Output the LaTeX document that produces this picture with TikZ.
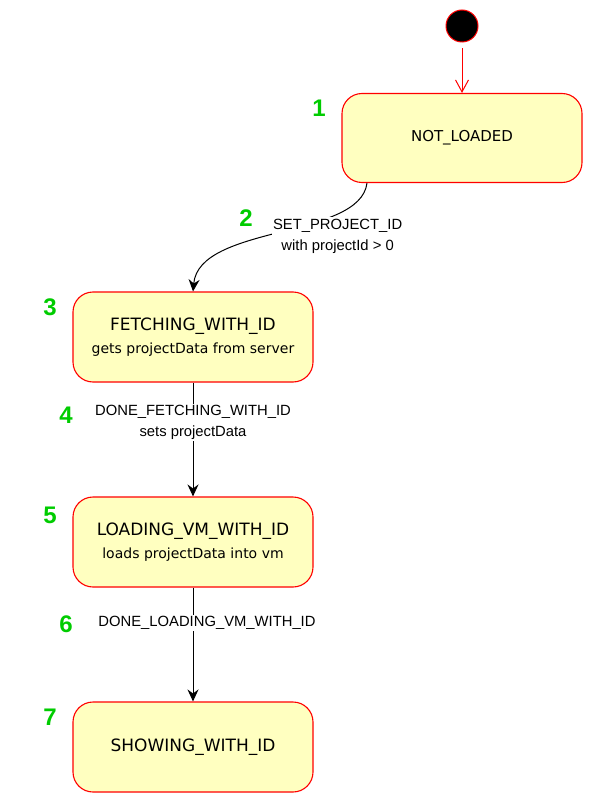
\documentclass[tikz,border=0pt]{standalone}
\usepackage{fontspec}
\setmainfont{Liberation Sans}
\newfontfamily\statefont{DejaVu Sans}
\usetikzlibrary{arrows.meta}

\definecolor{statefill}{HTML}{FFFFC0}
\definecolor{stateline}{HTML}{FF0000}
\definecolor{numgreen}{HTML}{00CC00}

\newcommand{\subline}[1]{{\fontsize{14}{23}\selectfont #1}}

\tikzset{
  statebox/.style={draw=stateline, fill=statefill, line width=1.1pt,
    rounded corners=20pt, minimum width=240pt, minimum height=90pt,
    align=center, inner sep=0pt, font=\statefont\fontsize{17}{23}\selectfont},
  lbl/.style={fill=white, align=center, inner sep=1.5pt,
    font=\fontsize{14.8}{21}\selectfont},
  num/.style={text=numgreen, font=\bfseries\fontsize{24}{24}\selectfont},
  trans/.style={draw, line width=1pt,
    -{Stealth[length=12pt,width=11pt,inset=4pt]}},
}

\begin{document}
\begin{tikzpicture}[x=1pt,y=-1pt]
  \useasboundingbox (0,0) rectangle (610,805);

  % states
  \node[circle, fill=black, draw=stateline, line width=1pt,
    minimum size=32pt, inner sep=0pt] (init) at (462,26) {};
  \node[statebox, minimum height=89pt,
    font=\statefont\fontsize{15}{18}\selectfont] (notloaded) at (462,138) {NOT\_LOADED};
  \node[statebox] (fetching) at (193,337)
    {FETCHING\_WITH\_ID\\\subline{gets projectData from server}};
  \node[statebox] (loading) at (193,542)
    {LOADING\_VM\_WITH\_ID\\\subline{loads projectData into vm}};
  \node[statebox] (showing) at (193,747) {SHOWING\_WITH\_ID};

  % steps
  \node[num] (n1) at (319,108) {1};
  \node[num] (n2) at (246,218) {2};
  \node[num] (n3) at (50,307) {3};
  \node[num] (n4) at (66,415) {4};
  \node[num] (n5) at (50,515) {5};
  \node[num] (n6) at (66,624) {6};
  \node[num] (n7) at (50,717) {7};

  % transitions
  \draw[stateline, line width=1pt, shorten <=6pt,
    -{Straight Barb[length=12pt,width=13pt]}]
    (init) -- (notloaded);
  \draw[trans]
    ([xshift=-95pt]notloaded.south)
    .. controls +(-7,56) and +(6,-67) ..
    node[lbl, pos=0.5, xshift=58pt, yshift=-3pt] (setid)
      {SET\_PROJECT\_ID\\with projectId > 0}
    (fetching.north);
  \draw[trans]
    (fetching)
    --
    node[lbl, pos=0.35] (donefetch) {DONE\_FETCHING\_WITH\_ID\\sets projectData}
    (loading);
  \draw[trans]
    (loading)
    --
    node[lbl, pos=0.31, xshift=14pt] (doneload) {DONE\_LOADING\_VM\_WITH\_ID}
    (showing);
\end{tikzpicture}
\end{document}
